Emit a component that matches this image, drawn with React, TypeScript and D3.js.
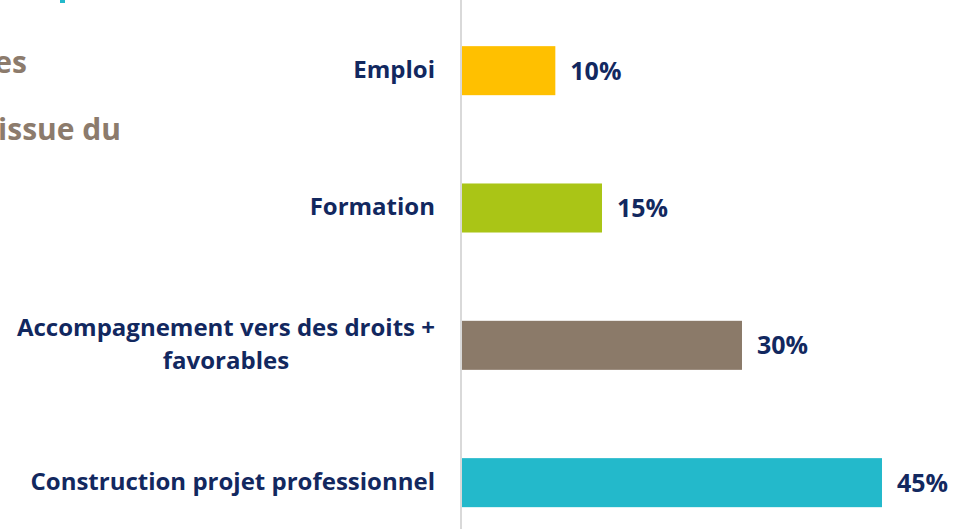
import React, { useEffect, useRef } from "react";
import * as d3 from "d3";

const categories = ["Emploi", "Formation", "Accompagnement vers des droits +|favorables", "Construction projet professionnel"];
const values = [10, 15, 30, 45];
const valueLabels = ["10%", "15%", "30%", "45%"];
const colors = ["#FFC000", "#AAC516", "#8B7A69", "#23B9CB"];
const sideTexts = ["es", "issue du"];

const W = 955;
const H = 529;
const NAVY = "#12285F";
const FONT = "'Open Sans', 'Noto Sans', sans-serif";

export default function App() {
  const ref = useRef<SVGSVGElement | null>(null);

  useEffect(() => {
    const svg = d3.select(ref.current);
    svg.selectAll("*").remove();

    const x = d3.scaleLinear().domain([0, 50]).range([462, 462 + 9.333 * 50]);
    const y = d3
      .scaleBand<string>()
      .domain(categories)
      .range([2, 2 + 4 * 137.33])
      .paddingInner(0.643)
      .paddingOuter(0.3215);

    // left cut-off title fragments
    svg.append("rect").attr("x", 60).attr("y", 0).attr("width", 5).attr("height", 3).attr("fill", "#23B9CB");
    svg
      .append("text")
      .attr("x", 27)
      .attr("y", 73)
      .attr("text-anchor", "end")
      .attr("font-family", FONT)
      .attr("font-weight", 700)
      .attr("font-size", 30)
      .attr("fill", "#8C7B6C")
      .text(sideTexts[0]);
    svg
      .append("text")
      .attr("x", 121)
      .attr("y", 140)
      .attr("text-anchor", "end")
      .attr("font-family", FONT)
      .attr("font-weight", 700)
      .attr("font-size", 30)
      .attr("fill", "#8C7B6C")
      .text(sideTexts[1]);

    // axis line
    svg
      .append("line")
      .attr("x1", 461)
      .attr("x2", 461)
      .attr("y1", 0)
      .attr("y2", H)
      .attr("stroke", "#D9D9D9")
      .attr("stroke-width", 2);

    const g = svg.append("g");
    categories.forEach((c, i) => {
      const yy = y(c)!;
      const bw = y.bandwidth();
      g.append("rect")
        .attr("x", x(0))
        .attr("y", yy)
        .attr("width", x(values[i]) - x(0))
        .attr("height", bw)
        .attr("fill", colors[i]);

      g.append("text")
        .attr("x", x(values[i]) + 15)
        .attr("y", yy + bw / 2 + 9)
        .attr("font-family", FONT)
        .attr("font-weight", 700)
        .attr("font-size", 25)
        .attr("fill", NAVY)
        .text(valueLabels[i]);

      const lines = c.split("|");
      const t = g
        .append("text")
        .attr("font-family", FONT)
        .attr("font-weight", 700)
        .attr("font-size", 24)
        .attr("fill", NAVY)
        .attr("text-anchor", "middle");
      const lh = 33;
      const cy = yy + bw / 2;
      const tspans = lines.map((ln, k) =>
        t
          .append("tspan")
          .attr("y", cy + 7 + (k - (lines.length - 1) / 2) * lh)
          .text(ln)
      );
      let maxW = 0;
      tspans.forEach((ts) => {
        const node = ts.node() as SVGTSpanElement;
        maxW = Math.max(maxW, node.getComputedTextLength());
      });
      const cx = 435 - maxW / 2;
      tspans.forEach((ts) => ts.attr("x", cx));
    });
  }, []);

  return (
    <svg
      ref={ref}
      width={W}
      height={H}
      style={{ position: "absolute", left: 0, top: 0, background: "#fff" }}
    />
  );
}
